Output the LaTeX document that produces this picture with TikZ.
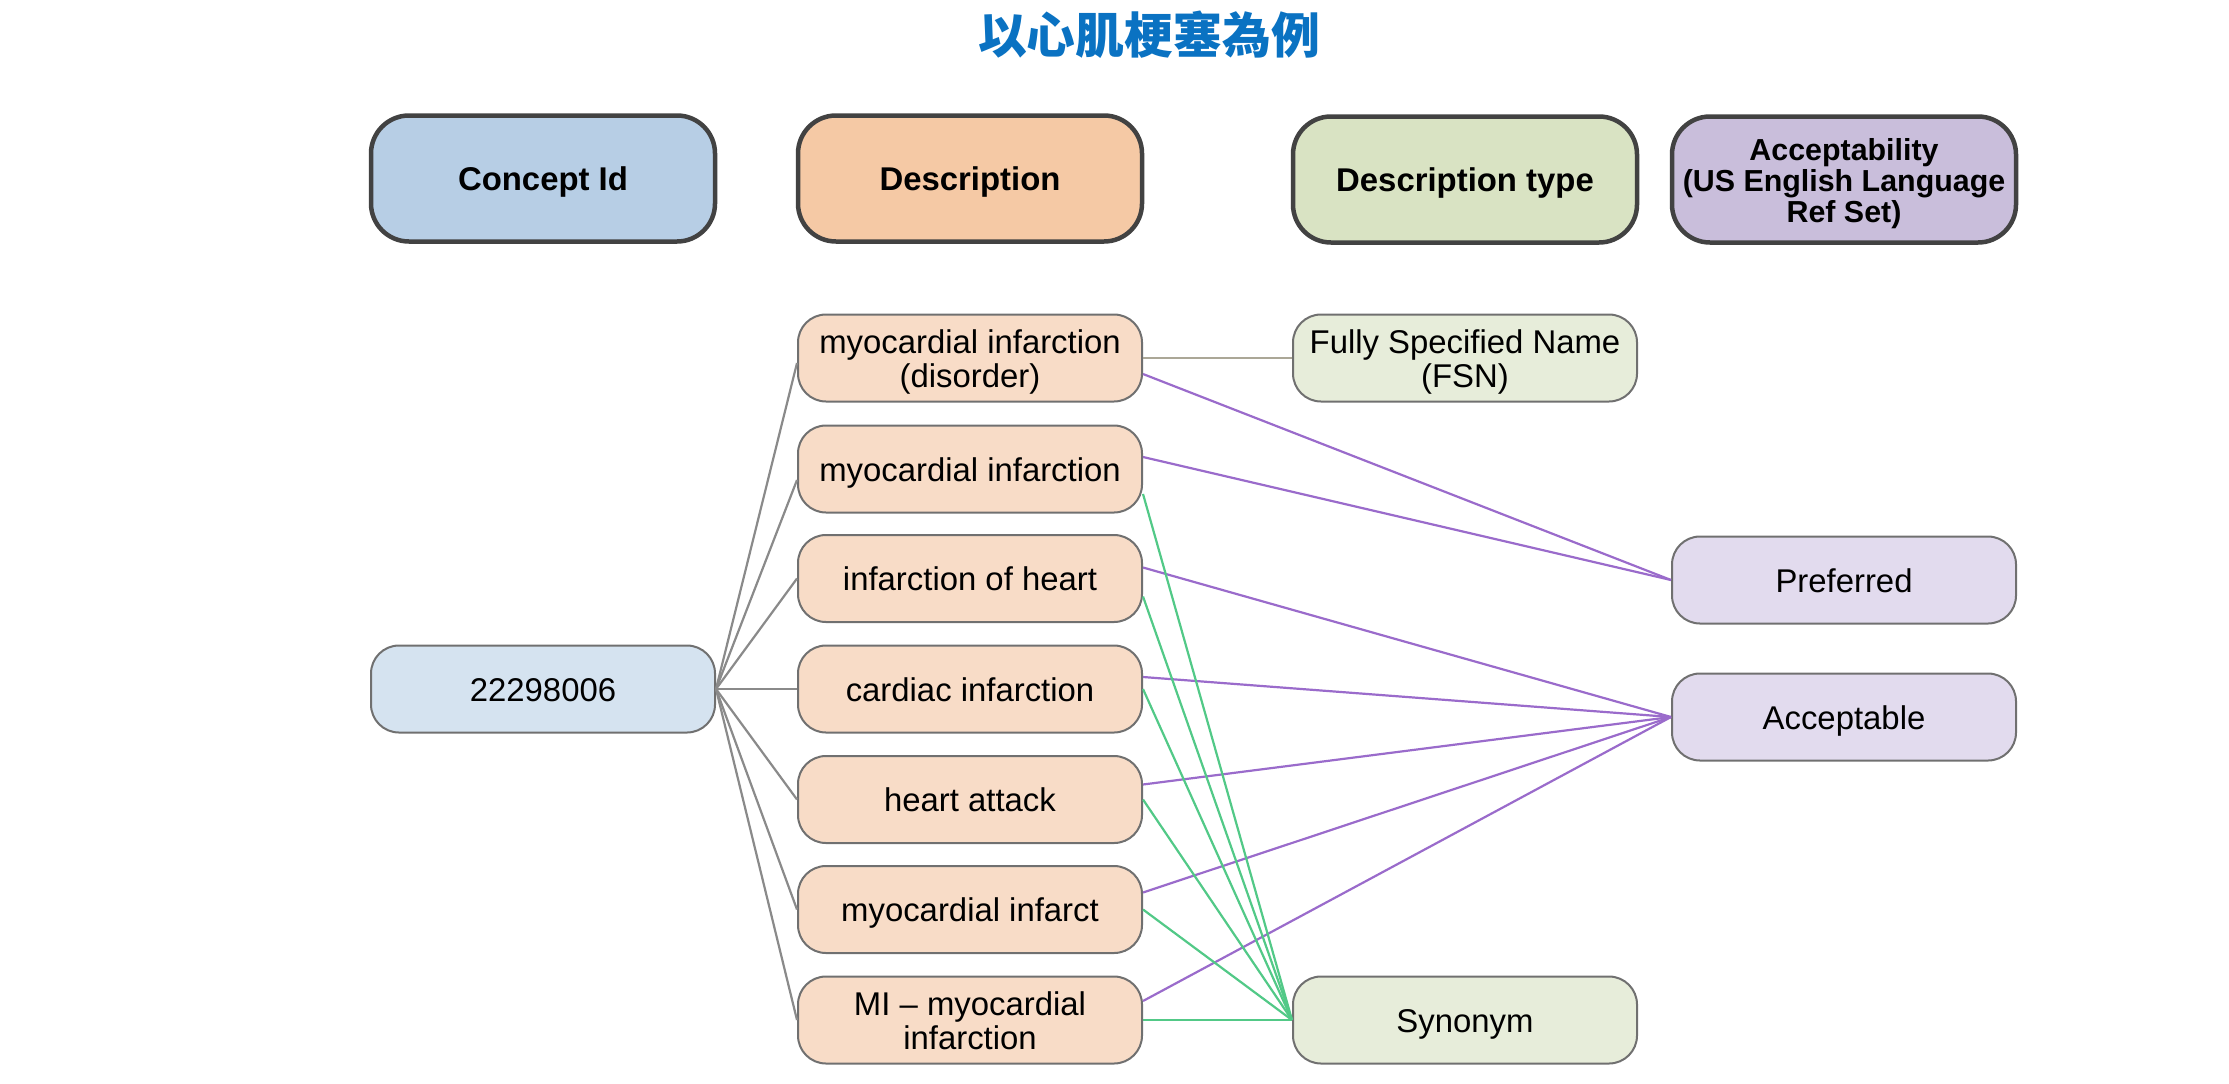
\documentclass[tikz,border=0pt]{standalone}
\usepackage{fontspec}
\setmainfont{Liberation Sans}
\newfontfamily\cjk{Noto Sans CJK TC}
\definecolor{titleblue}{HTML}{0A72C2}
\definecolor{hdrline}{HTML}{424242}
\definecolor{itemline}{HTML}{707070}
\definecolor{hblue}{HTML}{B7CEE5}
\definecolor{horange}{HTML}{F5C9A5}
\definecolor{hgreen}{HTML}{D9E3C3}
\definecolor{hpurple}{HTML}{C9BEDB}
\definecolor{iblue}{HTML}{D5E3F0}
\definecolor{iorange}{HTML}{F8DCC7}
\definecolor{igreen}{HTML}{E7EDDA}
\definecolor{ipurple}{HTML}{E2DBEE}
\definecolor{egray}{HTML}{8A8A8A}
\definecolor{etan}{HTML}{ABA797}
\definecolor{epurple}{HTML}{9A6BCB}
\definecolor{egreen}{HTML}{52C987}
\newcommand\nodetxt[1]{\raisebox{-5.5bp}[\height][\depth]{\begin{tabular}{@{}c@{}}#1\end{tabular}}}
\begin{document}
\begin{tikzpicture}[x=1bp,y=-1bp,
  hdr/.style={rounded corners=38bp, draw=hdrline, line width=4.5bp,
    minimum width=344bp, minimum height=126bp, inner sep=0pt,
    font=\fontsize{33}{35}\selectfont\bfseries},
  item/.style={rounded corners=28bp, draw=itemline, line width=2bp,
    minimum width=344bp, minimum height=87bp, inner sep=0pt,
    font=\fontsize{33}{33}\selectfont},
  gline/.style={draw=egray, line width=2.2bp},
  pline/.style={draw=epurple, line width=2.2bp},
  sline/.style={draw=egreen, line width=2.2bp},
  tline/.style={draw=etan, line width=2.2bp}]
\path[use as bounding box] (0,0) rectangle (2229,1083);

\node[font=\cjk\bfseries\fontsize{49}{52}\selectfont, text=titleblue] (title) at (1149,35) {以心肌梗塞為例};

\node[hdr, fill=hblue] (h1) at (543,178.5) {\nodetxt{Concept Id}};
\node[hdr, fill=horange] (h2) at (970,178.5) {\nodetxt{Description}};
\node[hdr, fill=hgreen] (h3) at (1465,179.5) {\nodetxt{Description type}};
\node[hdr, fill=hpurple, font=\fontsize{30.5}{30}\selectfont\bfseries] (h4) at (1844,179.5) {\nodetxt{Acceptability\\(US English Language\\Ref Set)}};

\node[item, fill=iblue] (cid) at (543,689) {\nodetxt{22298006}};

\node[item, fill=iorange] (d1) at (970,358) {\nodetxt{myocardial infarction\\(disorder)}};
\node[item, fill=iorange] (d2) at (970,469) {\nodetxt{myocardial infarction}};
\node[item, fill=iorange] (d3) at (970,578.5) {\nodetxt{infarction of heart}};
\node[item, fill=iorange] (d4) at (970,689) {\nodetxt{cardiac infarction}};
\node[item, fill=iorange] (d5) at (970,799.5) {\nodetxt{heart attack}};
\node[item, fill=iorange] (d6) at (970,909.5) {\nodetxt{myocardial infarct}};
\node[item, fill=iorange] (d7) at (970,1020) {\nodetxt{MI -- myocardial\\infarction}};

\node[item, fill=igreen] (fsn) at (1465,358) {\nodetxt{Fully Specified Name\\(FSN)}};
\node[item, fill=igreen] (syn) at (1465,1020) {\nodetxt{Synonym}};

\node[item, fill=ipurple] (pref) at (1844,580) {\nodetxt{Preferred}};
\node[item, fill=ipurple] (acc) at (1844,717) {\nodetxt{Acceptable}};

% concept to descriptions
\draw[gline] (cid.east) -- ([yshift=-5bp]d1.west);
\draw[gline] (cid.east) -- ([yshift=-11bp]d2.west);
\draw[gline] (cid.east) -- (d3.west);
\draw[gline] (cid.east) -- (d4.west);
\draw[gline] (cid.east) -- (d5.west);
\draw[gline] (cid.east) -- (d6.west);
\draw[gline] (cid.east) -- (d7.west);

% FSN
\draw[tline] (d1.east) -- (fsn.west);

% acceptability
\draw[pline] ([yshift=-16bp]d1.east) -- (pref.west);
\draw[pline] ([yshift=12bp]d2.east) -- (pref.west);
\draw[pline] ([yshift=11bp]d3.east) -- (acc.west);
\draw[pline] ([yshift=12bp]d4.east) -- (acc.west);
\draw[pline] ([yshift=15bp]d5.east) -- (acc.west);
\draw[pline] ([yshift=17bp]d6.east) -- (acc.west);
\draw[pline] ([yshift=19bp]d7.east) -- (acc.west);

% synonyms
\draw[sline] ([yshift=-25bp]d2.east) -- (syn.west);
\draw[sline] ([yshift=-18bp]d3.east) -- (syn.west);
\draw[sline] (d4.east) -- (syn.west);
\draw[sline] (d5.east) -- (syn.west);
\draw[sline] (d6.east) -- (syn.west);
\draw[sline] (d7.east) -- (syn.west);
\end{tikzpicture}
\end{document}
